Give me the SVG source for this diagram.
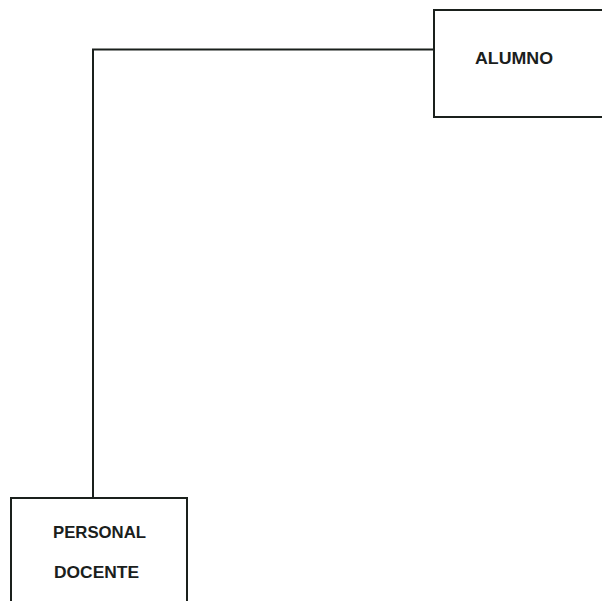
<svg xmlns="http://www.w3.org/2000/svg" width="602" height="601" viewBox="0 0 602 601">
  <style>
    .box { fill: #ffffff; stroke: #1a201c; stroke-width: 2; }
    .line { fill: none; stroke: #1a201c; stroke-width: 2; }
    .label { font-family: "Liberation Sans", Arial, sans-serif; font-weight: bold; font-size: 16.5px; fill: #1a201c; }
  </style>
  <rect width="602" height="601" fill="#ffffff"/>
  <g id="connectors">
    <path class="line" d="M434 49.5 H93 V498"/>
  </g>
  <g id="alumno">
    <rect class="box" x="434" y="10" width="180" height="107"/>
    <text class="label" x="475" y="64" textLength="78" lengthAdjust="spacingAndGlyphs">ALUMNO</text>
  </g>
  <g id="personal-docente">
    <rect class="box" x="11" y="498" width="176" height="120"/>
    <text class="label" x="53" y="538" textLength="93" lengthAdjust="spacingAndGlyphs">PERSONAL</text>
    <text class="label" x="54" y="578" textLength="85" lengthAdjust="spacingAndGlyphs">DOCENTE</text>
  </g>
</svg>
